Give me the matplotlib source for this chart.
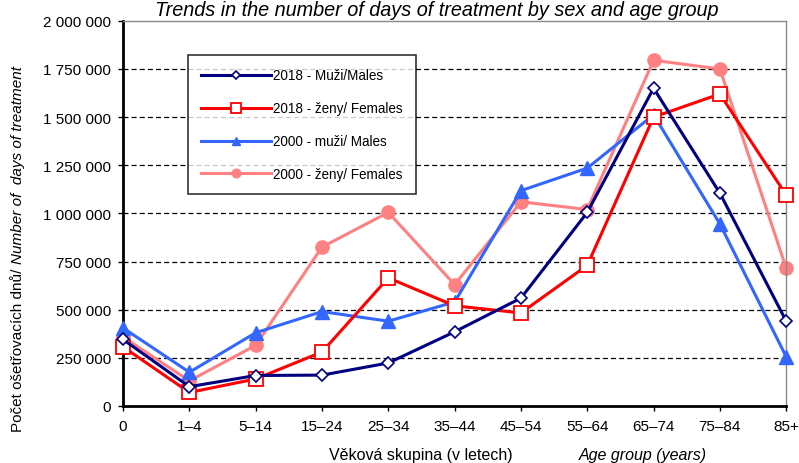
import numpy as np
import matplotlib
matplotlib.use("Agg")
import matplotlib.pyplot as plt
from matplotlib.ticker import FuncFormatter

plt.rcParams['font.family'] = ['Liberation Sans', 'DejaVu Sans']

# data
age_groups = ["0", "1–4", "5–14", "15–24", "25–34", "35–44", "45–54",
              "55–64", "65–74", "75–84", "85+"]
males_2018 = [345000, 100000, 158000, 160000, 223000, 385000, 560000,
              1005000, 1650000, 1105000, 440000]
females_2018 = [307000, 70000, 140000, 280000, 665000, 520000, 483000,
                730000, 1500000, 1620000, 1095000]
males_2000 = [405000, 175000, 380000, 490000, 440000, 540000, 1118000,
              1235000, 1512000, 945000, 255000]
females_2000 = [358000, 130000, 315000, 825000, 1005000, 630000, 1060000,
                1020000, 1795000, 1750000, 715000]

fig = plt.figure(figsize=(7.99, 4.64), dpi=100)
ax = fig.add_axes([0.154, 0.123, 0.830, 0.830])

x = np.arange(len(age_groups))

ax.plot(x, males_2018, color="#000080", lw=2.2, marker="D", ms=6.5,
        mfc="white", mec="#000080", mew=1.2, label="2018 - Muži/Males", clip_on=False, zorder=5)
ax.plot(x, females_2018, color="#FF0000", lw=2.2, marker="s", ms=10,
        mfc="white", mec="#FF0000", mew=1.3, label="2018 - ženy/ Females", clip_on=False, zorder=4)
ax.plot(x, males_2000, color="#3366FF", lw=2.2, marker="^", ms=9.5,
        mfc="#3366FF", mec="#3366FF", label="2000 - muži/ Males", clip_on=False, zorder=3)
ax.plot(x, females_2000, color="#FF8080", lw=2.2, marker="o", ms=9.5,
        mfc="#FF8080", mec="#FF8080", label="2000 - ženy/ Females", clip_on=False, zorder=2)

ax.set_xlim(0, len(age_groups) - 1)
ax.set_ylim(0, 2000000)
ax.set_xticks(x)
ax.set_xticklabels(age_groups, fontsize=11)
ax.set_yticks(np.arange(0, 2000001, 250000))
ax.yaxis.set_major_formatter(FuncFormatter(lambda v, p: f"{int(v):,}".replace(",", " ")))
ax.tick_params(axis="y", labelsize=11, direction="out", length=3.6, width=1, pad=5)
ax.tick_params(axis="x", direction="out", length=3.6, width=1, pad=6)

for v in np.arange(250000, 2000000, 250000):
    ax.axhline(v, color="black", lw=0.9, ls=(0, (4, 2.5)), zorder=1)

for s in ["left", "bottom"]:
    ax.spines[s].set_linewidth(2)
    ax.spines[s].set_color("black")
for s in ["top", "right"]:
    ax.spines[s].set_linewidth(1)
    ax.spines[s].set_color("#888888")

leg = ax.legend(loc="upper left", bbox_to_anchor=(0.098, 0.91), fontsize=9.75,
                frameon=True, fancybox=False, edgecolor="black", labelspacing=1.4,
                handlelength=5.2, borderpad=0.95, handletextpad=0.15, borderaxespad=0,
                markerscale=0.65)
leg.get_frame().set_linewidth(1.2)

fig.text(0.547, 0.978, "Trends in the number of days of treatment by sex and age group",
         ha="center", va="center", fontsize=14.3, style="italic")

fig.text(0.527, 0.019, "Věková skupina (v letech)", ha="center", va="center", fontsize=11.5)
fig.text(0.805, 0.019, "Age group (years)", ha="center", va="center", fontsize=11.5, style="italic")

# y label in two styles
t1 = fig.text(0.022, 0.069, "Počet ošetřovacích dnů/ ", rotation=90, ha="center", va="bottom",
              fontsize=11)
fig.canvas.draw()
bb = t1.get_window_extent(fig.canvas.get_renderer())
top = bb.y1 / fig.bbox.height
fig.text(0.022, top, "Number of  days of treatment", rotation=90, ha="center", va="bottom",
         fontsize=11, style="italic")

fig.savefig("out.png", dpi=100)
